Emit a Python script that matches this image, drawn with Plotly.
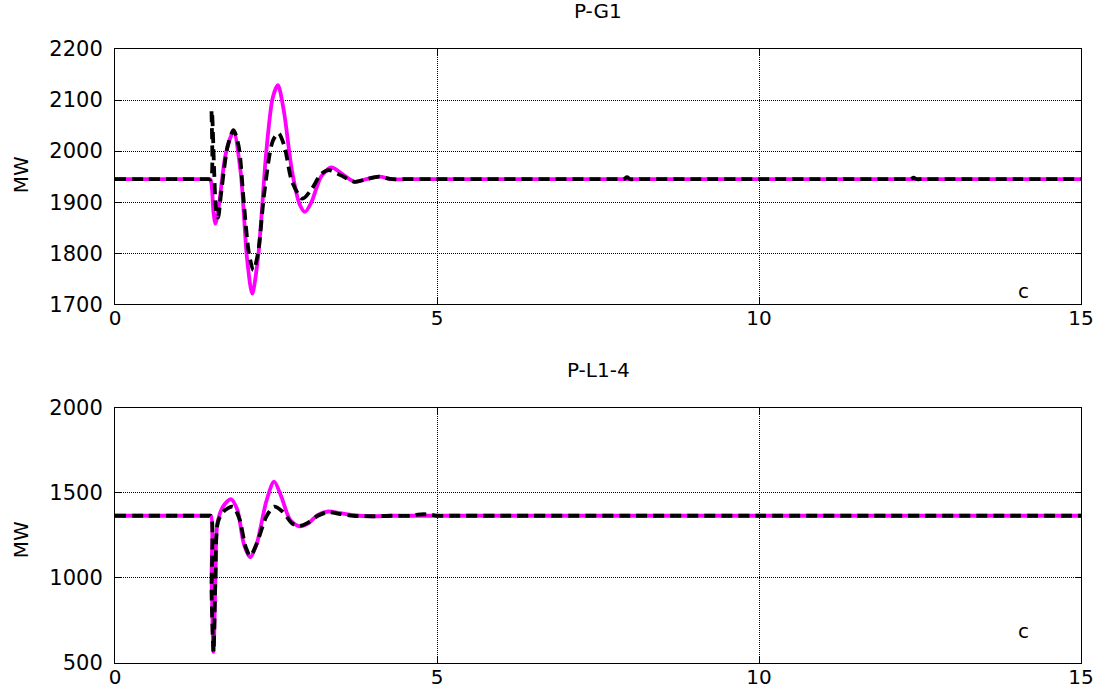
import plotly.graph_objects as go
from plotly.subplots import make_subplots

# ---- data (time in s, power in MW) ----
t_g1_mag = [0, 0.5, 1.0, 1.3, 1.44, 1.48, 1.50, 1.53, 1.56, 1.62, 1.72, 1.84, 1.95, 2.05, 2.13, 2.22,
            2.35, 2.45, 2.53, 2.62, 2.75, 2.87, 2.95, 3.05, 3.2, 3.36, 3.5, 3.72, 3.9, 4.1, 4.3,
            4.5, 5, 6, 8, 10, 12, 14, 15]
v_g1_mag = [1945, 1945, 1945, 1945, 1945, 1945, 1935, 1880, 1858, 1900, 1995, 2038, 1960, 1790, 1721, 1790,
            2000, 2105, 2129, 2080, 1960, 1895, 1881, 1900, 1950, 1968, 1958, 1940, 1945, 1950, 1945,
            1945, 1945, 1945, 1945, 1945, 1945, 1945, 1945]

t_g1_blk = [0, 0.5, 1.0, 1.3, 1.45, 1.49, 1.50, 1.51, 1.54, 1.57, 1.60, 1.65, 1.75, 1.84, 1.92, 2.0,
            2.08, 2.15, 2.22, 2.32, 2.45, 2.54, 2.63, 2.75, 2.91, 3.05, 3.2, 3.32, 3.5, 3.72, 3.9,
            4.1, 4.3, 4.5, 5, 6, 7, 7.8, 7.9, 7.95, 8.0, 8.1, 9, 10, 11, 12, 12.3, 12.35, 12.4, 12.45,
            12.5, 13, 14, 15]
v_g1_blk = [1945, 1945, 1945, 1945, 1945, 1945, 2080, 2070, 1960, 1885, 1870, 1920, 2010, 2041, 2010, 1900,
            1800, 1767, 1800, 1920, 2020, 2035, 2010, 1940, 1907, 1925, 1955, 1963, 1953, 1940, 1945,
            1950, 1945, 1945, 1945, 1945, 1945, 1945, 1945, 1949, 1945, 1945, 1945, 1945, 1945, 1945,
            1945, 1945, 1948, 1945, 1945, 1945, 1945, 1945]

t_l14_mag = [0, 0.5, 1.0, 1.3, 1.45, 1.49, 1.50, 1.53, 1.56, 1.59, 1.68, 1.80, 1.90, 2.0, 2.10, 2.2,
             2.35, 2.47, 2.58, 2.72, 2.86, 3.0, 3.15, 3.31, 3.5, 3.7, 4.0, 4.3, 4.6, 5, 6, 8, 10, 12,
             14, 15]
v_l14_mag = [1365, 1365, 1365, 1365, 1365, 1365, 1000, 565, 1000, 1320, 1420, 1463, 1400, 1200, 1121, 1200,
             1450, 1565, 1480, 1340, 1303, 1320, 1370, 1390, 1380, 1368, 1362, 1365, 1365, 1365, 1365,
             1365, 1365, 1365, 1365, 1365]

t_l14_blk = [0, 0.5, 1.0, 1.3, 1.45, 1.49, 1.50, 1.53, 1.56, 1.60, 1.70, 1.83, 1.93, 2.03, 2.10, 2.2,
             2.35, 2.47, 2.6, 2.75, 2.86, 3.0, 3.15, 3.3, 3.5, 3.7, 4.0, 4.3, 4.6, 4.7, 4.8, 4.9, 5.0,
             5.2, 6, 8, 10, 12, 14, 15]
v_l14_blk = [1365, 1365, 1365, 1365, 1365, 1365, 900, 565, 1000, 1330, 1395, 1418, 1350, 1180, 1130, 1200,
             1360, 1418, 1390, 1320, 1305, 1325, 1365, 1385, 1375, 1365, 1362, 1365, 1365, 1372, 1374,
             1372, 1365, 1365, 1365, 1365, 1365, 1365, 1365, 1365]

titles = ["P-G1", "P-L1-4"]
y_label = "MW"
x_label = "c"
x_ticks = [0, 5, 10, 15]
y_ticks_top = [1700, 1800, 1900, 2000, 2100, 2200]
y_ticks_bot = [500, 1000, 1500, 2000]

FONT = "DejaVu Sans, Liberation Sans, Arial, sans-serif"
MAG = "#FF00FF"

fig = make_subplots(rows=2, cols=1, vertical_spacing=0.1683)

for row, (tm, vm, tb, vb) in enumerate([(t_g1_mag, v_g1_mag, t_g1_blk, v_g1_blk),
                                        (t_l14_mag, v_l14_mag, t_l14_blk, v_l14_blk)], start=1):
    fig.add_trace(go.Scatter(x=tm, y=vm, mode="lines",
                             line=dict(color=MAG, width=3.8, shape="spline", smoothing=0.8),
                             showlegend=False), row=row, col=1)
    fig.add_trace(go.Scatter(x=tb, y=vb, mode="lines",
                             line=dict(color="black", width=3.8, dash="11px,6px",
                                       shape="spline", smoothing=0.8),
                             showlegend=False), row=row, col=1)

axis_common = dict(showline=True, linecolor="black", linewidth=1, mirror="ticks",
                   ticks="inside", ticklen=6, tickcolor="black", automargin=False,
                   showgrid=True, gridcolor="black", gridwidth=1, griddash="1px,1px",
                   zeroline=False)

fig.update_xaxes(range=[0, 15], tickvals=x_ticks, ticklabelstandoff=-4,
                 tickfont=dict(family=FONT, size=20, color="black"), **axis_common)
fig.update_yaxes(range=[1700, 2200], tickvals=y_ticks_top, ticklabelstandoff=7, row=1, col=1,
                 tickfont=dict(family=FONT, size=21, color="black"), **axis_common)
fig.update_yaxes(range=[500, 2000], tickvals=y_ticks_bot, ticklabelstandoff=7, row=2, col=1,
                 tickfont=dict(family=FONT, size=21, color="black"), **axis_common)

fig.update_layout(
    width=1107, height=693,
    margin=dict(l=115, r=26, t=49, b=30, autoexpand=False),
    paper_bgcolor="white", plot_bgcolor="white",
    font=dict(family=FONT, size=20, color="black"),
    annotations=[
        dict(text=titles[0], xref="paper", yref="paper", x=0.5, y=1.062, showarrow=False,
             xanchor="center", yanchor="middle", font=dict(size=20)),
        dict(text=titles[1], xref="paper", yref="paper", x=0.5, y=0.4775, showarrow=False,
             xanchor="center", yanchor="middle", font=dict(size=20)),
        dict(text=y_label, xref="paper", yref="paper", x=-0.097, y=0.795, showarrow=False,
             textangle=-90, xanchor="center", yanchor="middle", font=dict(size=20)),
        dict(text=y_label, xref="paper", yref="paper", x=-0.097, y=0.2003, showarrow=False,
             textangle=-90, xanchor="center", yanchor="middle", font=dict(size=20)),
        dict(text=x_label, xref="x", yref="y", x=14.1, y=1727, showarrow=False,
             xanchor="center", yanchor="middle", font=dict(size=20)),
        dict(text=x_label, xref="x2", yref="y2", x=14.1, y=686, showarrow=False,
             xanchor="center", yanchor="middle", font=dict(size=20)),
    ],
)

fig.write_html("out.html", config={"displayModeBar": False},
               post_script="document.body.style.margin='0';")
